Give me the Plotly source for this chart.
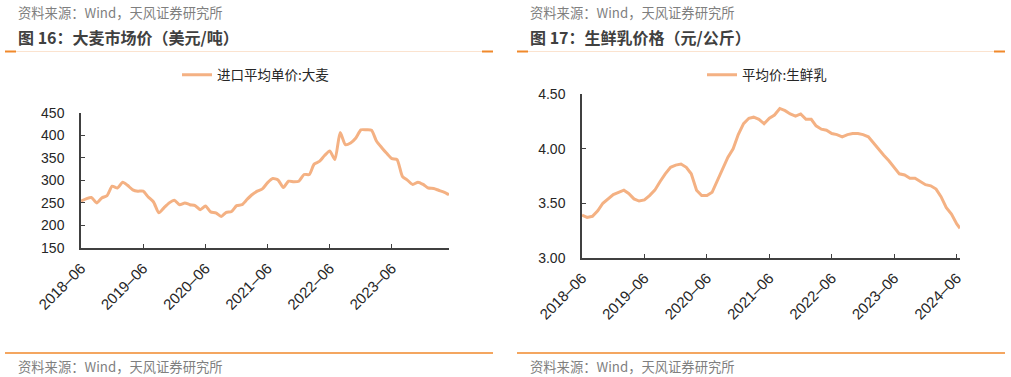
import plotly.graph_objects as go

# ---------------- data ----------------
barley_months = [f"{y}-{m:02d}-01" for y in range(2018, 2025) for m in range(1, 13)
                 if (y, m) >= (2018, 6) and (y, m) <= (2024, 5)]
barley_price = [254, 259, 262, 250, 261, 266, 287, 283, 296, 289, 279, 276,
                276, 263, 252, 228, 239, 250, 256, 246, 250, 246, 244, 235,
                243, 230, 228, 220, 229, 231, 244, 246, 258, 268, 276, 281,
                295, 304, 301, 284, 298, 297, 298, 313, 313, 336, 342, 355,
                365, 346, 406, 379, 383, 394, 412, 412, 411, 388, 373, 360,
                348, 346, 309, 300, 291, 296, 291, 283, 282, 278, 274, 268]

milk_dates = [f"{y}-{m:02d}-01" for y in range(2018, 2025) for m in range(1, 13)
              if (y, m) >= (2018, 6) and (y, m) <= (2024, 6)] + ["2024-06-20"]
milk_price = [3.39, 3.37, 3.38, 3.43, 3.50, 3.54, 3.58, 3.60, 3.62, 3.59, 3.54, 3.52,
              3.53, 3.57, 3.62, 3.70, 3.77, 3.83, 3.85, 3.86, 3.83, 3.77, 3.62, 3.57,
              3.57, 3.60, 3.71, 3.83, 3.92, 4.00, 4.13, 4.23, 4.28, 4.29, 4.27, 4.23,
              4.28, 4.31, 4.37, 4.35, 4.32, 4.30, 4.32, 4.27, 4.27, 4.21, 4.18, 4.17,
              4.14, 4.13, 4.11, 4.13, 4.14, 4.14, 4.13, 4.11, 4.05, 4.00, 3.94, 3.89,
              3.83, 3.77, 3.76, 3.73, 3.73, 3.70, 3.67, 3.66, 3.63, 3.56, 3.46, 3.40,
              3.31, 3.27]

left_ticks = ["2018-06", "2019-06", "2020-06", "2021-06", "2022-06", "2023-06"]
right_ticks = ["2018-06", "2019-06", "2020-06", "2021-06", "2022-06", "2023-06", "2024-06"]

left_title = "图 16：大麦市场价（美元/吨）"
right_title = "图 17：生鲜乳价格（元/公斤）"
source_text = "资料来源：Wind，天风证券研究所"
left_name = "进口平均单价:大麦"
right_name = "平均价:生鲜乳"

# ---------------- styling ----------------
W, H = 1011, 377
LINE = "#F4B183"
ORANGE = "#F0892B"
PEACH = "#FBE3CF"
AXIS = "#404040"
FONT = "Liberation Sans, Arial, Noto Sans CJK SC, sans-serif"
CJK = "Noto Sans CJK SC, sans-serif"


def px_x(x):
    return x / W


def px_y(y):
    return 1 - y / H


def tick_label(t):
    return t.replace("-", "–")


fig = go.Figure()
fig.add_trace(go.Scatter(x=barley_months, y=barley_price, mode="lines", name=left_name,
                         line=dict(color=LINE, width=3, shape="spline", smoothing=0.6),
                         xaxis="x", yaxis="y", legend="legend"))
fig.add_trace(go.Scatter(x=milk_dates, y=milk_price, mode="lines", name=right_name,
                         line=dict(color=LINE, width=3),
                         xaxis="x2", yaxis="y2", legend="legend2"))

axis_common = dict(showgrid=False, zeroline=False, showline=True, linecolor=AXIS, linewidth=1.5,
                   ticks="inside", ticklen=4, tickcolor=AXIS, tickwidth=1.2, automargin=False,
                   tickfont=dict(family=FONT, size=14, color="#262626"))
xfont = dict(family=FONT, size=15, color="#262626")

fig.update_layout(
    width=W, height=H, autosize=False,
    margin=dict(l=0, r=0, t=0, b=0, pad=0, autoexpand=False),
    paper_bgcolor="white", plot_bgcolor="white",
    xaxis=dict(domain=[px_x(81), px_x(449)], anchor="y",
               range=["2018-06-01", "2024-05-01"],
               tickvals=[t + "-01" for t in left_ticks], ticktext=[tick_label(t) for t in left_ticks],
               tickangle=-45, ticklabelstandoff=4, **{**axis_common, "tickfont": xfont}),
    yaxis=dict(domain=[px_y(248), px_y(112.7)], anchor="x",
               range=[150, 450], dtick=50, ticklabelstandoff=12, **axis_common),
    xaxis2=dict(domain=[px_x(582), px_x(960)], anchor="y2",
                range=["2018-06-01", "2024-06-20"],
                tickvals=[t + "-01" for t in right_ticks], ticktext=[tick_label(t) for t in right_ticks],
                tickangle=-45, ticklabelstandoff=4, **{**axis_common, "tickfont": xfont}),
    yaxis2=dict(domain=[px_y(257.7), px_y(94.3)], anchor="x2",
                range=[3.0, 4.5], dtick=0.5, tickformat=".2f", ticklabelstandoff=12, **axis_common),
    legend=dict(x=px_x(177), y=px_y(75), xanchor="left", yanchor="middle",
                font=dict(family=CJK, size=13.5, color="#262626"), bgcolor="rgba(0,0,0,0)"),
    legend2=dict(x=px_x(702), y=px_y(75), xanchor="left", yanchor="middle",
                 font=dict(family=CJK, size=13.5, color="#262626"), bgcolor="rgba(0,0,0,0)"),
    showlegend=True,
)

annotations = []
shapes = []
for x0, x1 in [(5, 493), (517, 1005)]:
    annotations.append(dict(x=px_x(x0 + 11), y=px_y(13), xref="paper", yref="paper",
                            xanchor="left", yanchor="middle", showarrow=False,
                            text=source_text, font=dict(family=CJK, size=13.3, color="#7F7F7F")))
    annotations.append(dict(x=px_x(x0 + 11), y=px_y(366), xref="paper", yref="paper",
                            xanchor="left", yanchor="middle", showarrow=False,
                            text=source_text, font=dict(family=CJK, size=13.3, color="#7F7F7F")))
    shapes.append(dict(type="line", xref="paper", yref="paper",
                       x0=px_x(x0), x1=px_x(x1), y0=px_y(51.5), y1=px_y(51.5),
                       line=dict(color=PEACH, width=1)))
    shapes.append(dict(type="line", xref="paper", yref="paper",
                       x0=px_x(x0), x1=px_x(x0 + 11), y0=px_y(51.5), y1=px_y(51.5),
                       line=dict(color=ORANGE, width=2)))
    shapes.append(dict(type="line", xref="paper", yref="paper",
                       x0=px_x(x1 - 11), x1=px_x(x1), y0=px_y(51.5), y1=px_y(51.5),
                       line=dict(color=ORANGE, width=2)))
    shapes.append(dict(type="line", xref="paper", yref="paper",
                       x0=px_x(x0), x1=px_x(x1), y0=px_y(353), y1=px_y(353),
                       line=dict(color=ORANGE, width=1.5)))

annotations.append(dict(x=px_x(16), y=px_y(37), xref="paper", yref="paper",
                        xanchor="left", yanchor="middle", showarrow=False,
                        text="<b>" + left_title + "</b>",
                        font=dict(family=CJK, size=16, color="#404040")))
annotations.append(dict(x=px_x(528), y=px_y(37), xref="paper", yref="paper",
                        xanchor="left", yanchor="middle", showarrow=False,
                        text="<b>" + right_title + "</b>",
                        font=dict(family=CJK, size=16, color="#404040")))

fig.update_layout(annotations=annotations, shapes=shapes)
fig.write_html("out.html", config={"displayModeBar": False},
               post_script="document.body.style.margin='0';document.body.style.overflow='hidden';")
